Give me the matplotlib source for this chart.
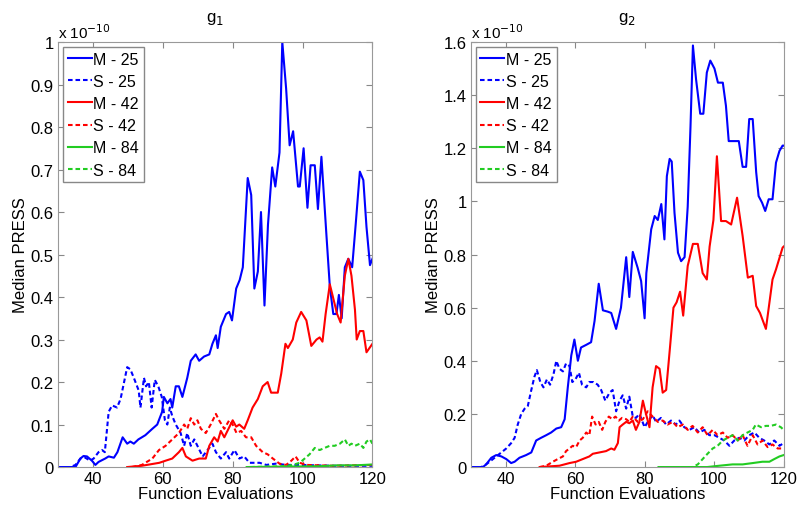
import matplotlib.pyplot as plt
from matplotlib.ticker import FuncFormatter

# values in units of 1e-10
g1_m25_x = [30, 35, 36.4, 37.3, 38.3, 39.7, 40.7, 41.6, 43.5, 44.5,
            46, 47, 48.5, 49.8, 50.7, 51.7, 53, 55, 57, 58.4,
            59.8, 60.3, 61.3, 62.2, 62.7, 63.7, 64.6, 65.6, 67, 68,
            69.4, 70.4, 71.8, 73.3, 74.2, 75.2, 75.7, 76.6, 78.1, 79,
            79.8, 81, 82, 82.9, 84.3, 85.3, 86.2, 87.2, 88.1, 89.1,
            90.1, 91.3, 92.2, 93.4, 94.2, 95.3, 96.3, 97.3, 98.7, 99.2,
            100.3, 101.4, 102.3, 103.5, 104.4, 105.4, 106.8, 107.8, 108.8, 109.7,
            110.4, 111.2, 112.1, 113.1, 114.2, 115.2, 116.4, 117.4, 118.3, 119.3,
            120]
g1_m25_y = [0, 0, 0.02, 0.026, 0.025, 0.015, 0.005, 0.012, 0.02, 0.025,
            0.022, 0.035, 0.07, 0.055, 0.06, 0.055, 0.065, 0.075, 0.09, 0.10,
            0.13, 0.165, 0.15, 0.16, 0.14, 0.19, 0.19, 0.165, 0.21, 0.25,
            0.265, 0.25, 0.26, 0.265, 0.29, 0.31, 0.28, 0.33, 0.36, 0.365,
            0.345, 0.42, 0.44, 0.47, 0.68, 0.64, 0.42, 0.46, 0.60, 0.38,
            0.57, 0.705, 0.66, 0.74, 1.0, 0.89, 0.757, 0.79, 0.66, 0.66,
            0.75, 0.61, 0.71, 0.71, 0.607, 0.73, 0.55, 0.425, 0.36, 0.36,
            0.405, 0.35, 0.47, 0.49, 0.47, 0.57, 0.695, 0.675, 0.565, 0.475,
            0.49]

g1_s25_x = [30, 33.5, 35, 36.4, 37.8, 39.2, 40.2, 41.6, 42.6, 43.4,
            44.5, 45.5, 46.9, 47.9, 49.8, 50.7, 51.7, 53.1, 53.6, 54.6,
            55.2, 56, 56.8, 57.7, 58.7, 59.7, 60.6, 61.3, 62, 62.7,
            63.7, 65.1, 66.1, 67, 68, 69, 69.9, 71.4, 72.8, 74.2,
            75.2, 76.6, 78.1, 79, 80.5, 81.9, 83.3, 84.8, 87.7, 89.6,
            92.4, 95.3, 99, 108.7, 120]
g1_s25_y = [0, 0, 0.005, 0.02, 0.022, 0.015, 0.02, 0.035, 0.04, 0.035,
            0.13, 0.145, 0.14, 0.16, 0.235, 0.23, 0.21, 0.18, 0.14, 0.21,
            0.19, 0.2, 0.14, 0.205, 0.19, 0.165, 0.11, 0.10, 0.14, 0.12,
            0.10, 0.08, 0.05, 0.08, 0.05, 0.065, 0.05, 0.025, 0.04, 0.055,
            0.035, 0.02, 0.035, 0.02, 0.04, 0.02, 0.025, 0.01, 0.01, 0.005,
            0.008, 0.005, 0.005, 0.003, 0.003]

g1_m42_x = [49.8, 54, 59, 60.8, 62.7, 64.6, 65.6, 66.6, 68.5, 70.4,
            72.3, 73.3, 74.7, 75.7, 76.6, 77.6, 78.5, 80, 81, 81.9,
            83.3, 84.3, 85.7, 87.2, 88.6, 90, 91, 92.9, 93.9, 95.1,
            95.8, 97.2, 98.2, 99.6, 101.1, 102.5, 104, 104.9, 105.7, 106.6,
            107.8, 108.7, 109.9, 110.9, 112.1, 113.1, 114, 115, 115.5, 116.4,
            117.4, 118.3, 120]
g1_m42_y = [0, 0.003, 0.01, 0.015, 0.02, 0.035, 0.045, 0.025, 0.015, 0.02,
            0.02, 0.05, 0.07, 0.06, 0.085, 0.07, 0.085, 0.11, 0.095, 0.10,
            0.09, 0.11, 0.14, 0.16, 0.19, 0.20, 0.175, 0.175, 0.22, 0.29,
            0.28, 0.30, 0.34, 0.365, 0.345, 0.285, 0.30, 0.305, 0.295, 0.36,
            0.43, 0.40, 0.36, 0.34, 0.45, 0.49, 0.45, 0.37, 0.30, 0.32,
            0.32, 0.27, 0.29]

g1_s42_x = [51.2, 54, 57, 58.9, 60.8, 62.7, 64.6, 66.1, 67, 68,
            69, 69.9, 70.9, 72.3, 73.7, 75.2, 76.1, 77.6, 79, 80,
            81.1, 82.4, 83.8, 85.3, 86.7, 88.6, 90, 91.5, 93.4, 95.3,
            96.8, 98, 99.2, 101.1, 108.7, 120]
g1_s42_y = [0, 0.005, 0.02, 0.04, 0.05, 0.065, 0.08, 0.10, 0.09, 0.115,
            0.10, 0.11, 0.09, 0.08, 0.10, 0.125, 0.11, 0.09, 0.11, 0.10,
            0.08, 0.085, 0.07, 0.07, 0.05, 0.035, 0.03, 0.02, 0.008, 0.005,
            0.015, 0.025, 0.01, 0.005, 0.003, 0.005]

g1_m84_x = [84, 95, 105, 110, 115, 120]
g1_m84_y = [0, 0.001, 0.002, 0.004, 0.004, 0.006]

g1_s84_x = [85, 95, 97.2, 99.2, 100.6, 102, 103.5, 104.9, 106.3, 107.8,
            109.2, 110.7, 112.1, 113.1, 114, 115, 116.4, 117.4, 118.3, 119.3,
            120]
g1_s84_y = [0, 0.002, 0.005, 0.01, 0.02, 0.03, 0.045, 0.04, 0.045, 0.05,
            0.05, 0.055, 0.065, 0.05, 0.055, 0.05, 0.055, 0.045, 0.06, 0.065,
            0.055]

g2_m25_x = [30, 33.5, 34.4, 35.9, 37.3, 38.8, 40.2, 41.6, 42.6, 44,
            45.9, 47.4, 48.8, 50.2, 51.7, 53.1, 54.6, 56, 57, 57.9,
            58.9, 59.8, 60.8, 61.7, 63.2, 64.6, 65.6, 66.8, 68, 69.4,
            70.4, 71.8, 73.2, 74.7, 75.6, 76.6, 78, 79, 80, 80.5,
            81.9, 82.9, 83.8, 84.8, 85.7, 86.4, 87.2, 87.8, 88.6, 89.6,
            90.5, 91.5, 92.4, 93.2, 93.9, 94.8, 96, 96.9, 97.9, 98.9,
            100.1, 101.1, 102.5, 103.4, 104.2, 105.8, 107.1, 108.2, 109.2, 110.1,
            111.1, 112.1, 112.8, 113.8, 114.7, 115.7, 116.8, 117.8, 118.8, 119.7,
            120]
g2_m25_y = [0, 0, 0.01, 0.035, 0.045, 0.04, 0.03, 0.015, 0.02, 0.035,
            0.045, 0.055, 0.10, 0.11, 0.12, 0.13, 0.145, 0.15, 0.18, 0.30,
            0.42, 0.48, 0.40, 0.45, 0.46, 0.47, 0.55, 0.69, 0.59, 0.585,
            0.58, 0.52, 0.60, 0.79, 0.64, 0.81, 0.75, 0.70, 0.56, 0.73,
            0.895, 0.945, 0.93, 0.99, 0.857, 1.095, 1.16, 1.15, 0.957, 0.807,
            0.775, 0.79, 0.98, 1.28, 1.587, 1.46, 1.33, 1.33, 1.485, 1.53,
            1.50, 1.447, 1.447, 1.36, 1.227, 1.227, 1.227, 1.13, 1.13, 1.31,
            1.31, 1.11, 1.02, 0.995, 0.964, 1.008, 1.008, 1.146, 1.19, 1.21,
            1.21]

g2_s25_x = [30, 33, 34.4, 35.9, 37.3, 38.8, 40.2, 41.6, 42.6, 43.5,
            44.5, 45.5, 46.4, 47.4, 48.3, 49, 50, 50.9, 51.9, 52.8,
            53.8, 54.6, 55.5, 56.5, 57.4, 58.4, 59.2, 60.1, 61.1, 62,
            63.2, 64.1, 65.3, 66.5, 67.5, 68.7, 69.9, 70.8, 71.8, 72.8,
            73.7, 74.7, 75.6, 76.6, 77.5, 78.5, 80, 80.9, 82.3, 83.3,
            84.7, 86.2, 87.6, 89, 90, 91.4, 92.9, 94.3, 95.7, 97.2,
            98.6, 100.1, 101.5, 102.9, 104.4, 105.8, 107.2, 108.7, 110.1, 111.6,
            113, 114.4, 115.9, 117.3, 118.8, 120]
g2_s25_y = [0, 0, 0.01, 0.025, 0.04, 0.055, 0.07, 0.09, 0.11, 0.16,
            0.20, 0.22, 0.23, 0.29, 0.34, 0.365, 0.32, 0.30, 0.33, 0.31,
            0.35, 0.40, 0.37, 0.36, 0.39, 0.38, 0.32, 0.33, 0.355, 0.31,
            0.30, 0.32, 0.32, 0.31, 0.29, 0.25, 0.28, 0.29, 0.21, 0.25,
            0.27, 0.22, 0.265, 0.19, 0.185, 0.20, 0.15, 0.17, 0.195, 0.17,
            0.185, 0.16, 0.175, 0.16, 0.175, 0.15, 0.14, 0.15, 0.13, 0.14,
            0.12, 0.12, 0.11, 0.10, 0.08, 0.10, 0.11, 0.10, 0.12, 0.13,
            0.11, 0.10, 0.085, 0.10, 0.08, 0.09]

g2_m42_x = [49.8, 55.5, 58.4, 60.3, 62.2, 64.1, 65.1, 67, 68.9, 70.4,
            71.3, 72.3, 72.8, 73.7, 74.7, 75.6, 76.6, 77.5, 78.5, 79.5,
            80.4, 81.4, 82.3, 83.3, 84.3, 85.2, 86.2, 87.3, 88.3, 89.2,
            90.2, 91.1, 92.4, 93.9, 95.3, 96.7, 97.9, 98.7, 99.8, 100.8,
            102, 103.4, 104.9, 106.6, 108.2, 109.7, 111.1, 112.1, 113.2, 114.9,
            116.8, 117.8, 119.7, 120]
g2_m42_y = [0, 0.005, 0.015, 0.02, 0.03, 0.04, 0.05, 0.055, 0.06, 0.07,
            0.065, 0.09, 0.15, 0.16, 0.17, 0.165, 0.175, 0.14, 0.17, 0.25,
            0.20, 0.15, 0.30, 0.38, 0.37, 0.28, 0.29, 0.45, 0.60, 0.62,
            0.66, 0.57, 0.757, 0.84, 0.84, 0.73, 0.706, 0.83, 0.93, 1.17,
            0.926, 0.926, 0.913, 1.014, 0.87, 0.713, 0.72, 0.606, 0.58, 0.52,
            0.706, 0.744, 0.826, 0.83]

g2_s42_x = [49.8, 51.7, 53.6, 55, 56.5, 57.4, 58.4, 59.3, 60.3, 61.3,
            62.2, 63.2, 64.1, 64.9, 65.9, 66.8, 67.8, 68.7, 69.7, 70.7,
            71.6, 72.6, 73.5, 74.7, 75.6, 76.6, 78, 79.5, 80.9, 82.3,
            83.8, 85.2, 86.6, 88.1, 89.5, 91, 92.4, 93.8, 95.3, 96.7,
            98.1, 99.6, 101, 102.5, 103.9, 105.3, 106.8, 108.2, 109.6, 111.1,
            112.5, 113.9, 115.4, 116.8, 118.3, 120]
g2_s42_y = [0, 0.005, 0.02, 0.03, 0.04, 0.06, 0.07, 0.08, 0.075, 0.10,
            0.11, 0.13, 0.12, 0.19, 0.16, 0.17, 0.14, 0.17, 0.19, 0.18,
            0.19, 0.175, 0.185, 0.18, 0.17, 0.19, 0.17, 0.18, 0.21, 0.19,
            0.17, 0.175, 0.16, 0.17, 0.15, 0.16, 0.14, 0.155, 0.13, 0.15,
            0.12, 0.14, 0.12, 0.13, 0.11, 0.12, 0.10, 0.12, 0.08, 0.12,
            0.085, 0.10, 0.075, 0.085, 0.07, 0.07]

g2_m84_x = [84, 98, 101.5, 105.3, 108.2, 111.1, 113.9, 115.9, 117.3, 118.8, 120]
g2_m84_y = [0, 0, 0.005, 0.01, 0.01, 0.015, 0.02, 0.02, 0.03, 0.04, 0.045]

g2_s84_x = [84, 93.8, 95.3, 96.7, 98.1, 99.6, 101, 102.5, 103.9, 105.3,
            106.8, 108.2, 109.6, 111.1, 112, 113.5, 114.9, 116.3, 117.8, 119.2,
            120]
g2_s84_y = [0, 0, 0.01, 0.03, 0.05, 0.07, 0.08, 0.10, 0.11, 0.12,
            0.10, 0.12, 0.13, 0.14, 0.16, 0.15, 0.155, 0.155, 0.16, 0.15,
            0.14]

labels = ['M - 25', 'S - 25', 'M - 42', 'S - 42', 'M - 84', 'S - 84']
blue, red, green = '#0000ff', '#ff0000', '#22cc22'

plt.rcParams['font.family'] = ['Liberation Sans', 'DejaVu Sans']


def draw(ax, series, ymax, yticks, title):
    colors = [blue, blue, red, red, green, green]
    dashed = (0, (2.2, 1.4))
    styles = ['-', dashed, '-', dashed, '-', dashed]
    for (x, y), c, ls, lab in zip(series, colors, styles, labels):
        ax.plot(x, y, color=c, linestyle=ls, linewidth=1.5, label=lab)
    ax.set_xlim(30, 120)
    ax.set_ylim(0, ymax)
    ax.set_xticks([40, 60, 80, 100, 120])
    ax.set_yticks(yticks)
    ax.yaxis.set_major_formatter(FuncFormatter(lambda v, p: '%g' % round(v, 2)))
    ax.tick_params(direction='in', top=True, right=True, labelsize=12,
                   color='#888888', length=4, pad=3)
    for s in ax.spines.values():
        s.set_color('#999999')
    ax.set_xlabel('Function Evaluations', fontsize=12, labelpad=0)
    ax.set_ylabel('Median PRESS', fontsize=12, labelpad=2)
    ax.set_title(title, fontsize=12, pad=15)
    ax.text(0.0, 1.003, r'x 10$^{-10}$', transform=ax.transAxes,
            ha='left', va='bottom', fontsize=11)
    leg = ax.legend(loc='upper left', fontsize=11.5, handlelength=1.5,
                    handletextpad=0.1, labelspacing=0.45, borderaxespad=0.3,
                    borderpad=0.3, fancybox=False, framealpha=1)
    leg.get_frame().set_edgecolor('#888888')
    leg.get_frame().set_linewidth(1.0)


fig = plt.figure(figsize=(7.98, 5.06), dpi=100)
ax1 = fig.add_axes([0.0727, 0.075, 0.394, 0.840])
ax2 = fig.add_axes([0.590, 0.075, 0.392, 0.840])

draw(ax1, [(g1_m25_x, g1_m25_y), (g1_s25_x, g1_s25_y), (g1_m42_x, g1_m42_y),
           (g1_s42_x, g1_s42_y), (g1_m84_x, g1_m84_y), (g1_s84_x, g1_s84_y)],
     1.0, [0, 0.1, 0.2, 0.3, 0.4, 0.5, 0.6, 0.7, 0.8, 0.9, 1.0], 'g$_1$')
draw(ax2, [(g2_m25_x, g2_m25_y), (g2_s25_x, g2_s25_y), (g2_m42_x, g2_m42_y),
           (g2_s42_x, g2_s42_y), (g2_m84_x, g2_m84_y), (g2_s84_x, g2_s84_y)],
     1.6, [0, 0.2, 0.4, 0.6, 0.8, 1.0, 1.2, 1.4, 1.6], 'g$_2$')

fig.savefig('out.png', dpi=100)
